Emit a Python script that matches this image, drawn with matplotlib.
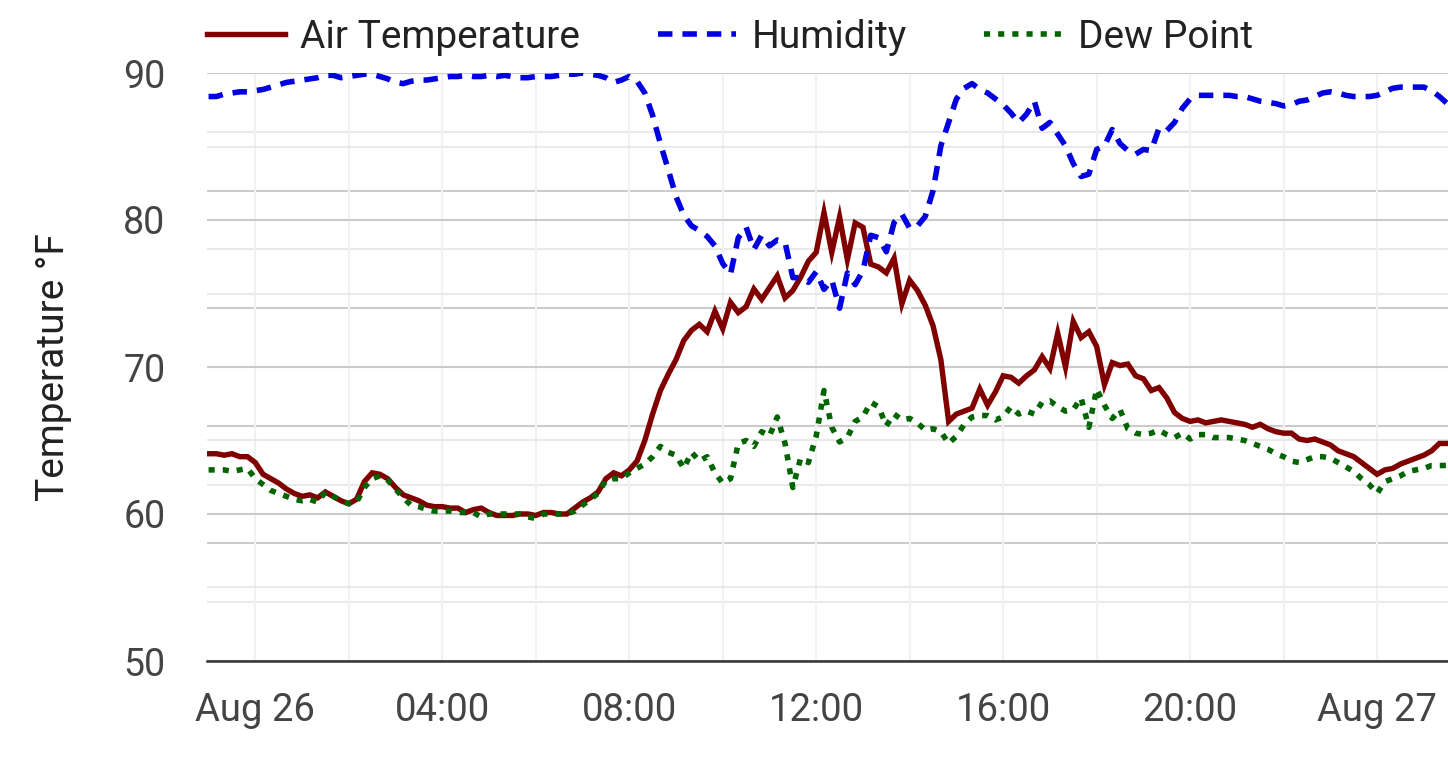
import matplotlib
matplotlib.use("Agg")
import matplotlib.pyplot as plt
import matplotlib.dates as mdates
from matplotlib.ticker import MultipleLocator, FuncFormatter
import pandas as pd

plt.rcParams['font.family'] = ['Roboto', 'DejaVu Sans']

# readings every 10 minutes, Aug 25 23:00 -> Aug 27 01:30
times = pd.date_range('2024-08-25 23:00', periods=160, freq='10min')

air_temp = [
    64.1, 64.1, 64.0, 64.1, 63.9, 63.9, 63.5, 62.7, 62.4, 62.1,
    61.7, 61.4, 61.2, 61.3, 61.1, 61.5, 61.2, 60.9, 60.7, 61.0,
    62.2, 62.8, 62.7, 62.4, 61.8, 61.3, 61.1, 60.9, 60.6, 60.5,
    60.5, 60.4, 60.4, 60.1, 60.3, 60.4, 60.1, 59.9, 59.9, 59.9,
    60.0, 60.0, 59.9, 60.1, 60.1, 60.0, 60.0, 60.4, 60.8, 61.1,
    61.5, 62.4, 62.8, 62.6, 63.0, 63.6, 65.0, 66.8, 68.4, 69.5,
    70.5, 71.8, 72.5, 72.9, 72.4, 73.8, 72.6, 74.4, 73.7, 74.1,
    75.3, 74.6, 75.4, 76.2, 74.7, 75.2, 76.1, 77.2, 77.8, 80.5,
    77.8, 80.2, 77.3, 79.8, 79.5, 77.0, 76.8, 76.4, 77.4, 74.3,
    75.9, 75.2, 74.2, 72.8, 70.5, 66.3, 66.8, 67.0, 67.2, 68.5,
    67.4, 68.3, 69.4, 69.3, 68.9, 69.4, 69.8, 70.7, 69.9, 72.3,
    70.0, 73.1, 72.0, 72.4, 71.4, 68.8, 70.3, 70.1, 70.2, 69.4,
    69.2, 68.4, 68.6, 67.9, 66.9, 66.5, 66.3, 66.4, 66.2, 66.3,
    66.4, 66.3, 66.2, 66.1, 65.9, 66.1, 65.8, 65.6, 65.5, 65.5,
    65.1, 65.0, 65.1, 64.9, 64.7, 64.3, 64.1, 63.9, 63.5, 63.1,
    62.7, 63.0, 63.1, 63.4, 63.6, 63.8, 64.0, 64.3, 64.8, 64.8,
]

dew_point = [
    63.0, 63.0, 63.0, 62.9, 63.0, 63.1, 62.4, 62.0, 61.6, 61.4,
    61.2, 61.0, 60.9, 61.0, 60.8, 61.5, 61.2, 60.9, 60.7, 60.8,
    61.8, 62.4, 62.6, 62.3, 61.7, 61.1, 60.6, 60.5, 60.3, 60.2,
    60.2, 60.2, 60.1, 60.1, 60.1, 59.8, 60.0, 60.0, 60.0, 60.0,
    60.0, 59.8, 59.7, 60.0, 60.0, 60.0, 60.0, 60.2, 60.6, 61.0,
    61.4, 62.3, 62.4, 62.4, 62.8, 63.1, 63.4, 63.9, 64.6, 64.2,
    64.0, 63.1, 64.2, 63.6, 63.9, 62.8, 62.1, 62.4, 64.8, 65.0,
    64.6, 65.6, 65.3, 66.6, 64.8, 61.8, 63.8, 63.5, 65.3, 68.4,
    65.9, 64.9, 65.2, 66.3, 66.6, 67.6, 67.3, 66.0, 66.8, 66.4,
    66.5, 66.2, 65.7, 65.8, 65.6, 64.8, 65.3, 66.1, 66.6, 66.7,
    66.7, 66.4, 66.6, 67.3, 66.8, 67.0, 66.8, 67.6, 67.7, 67.3,
    67.0, 67.1, 67.9, 65.9, 68.5, 67.4, 66.5, 67.1, 65.8, 65.5,
    65.4, 65.5, 65.7, 65.4, 65.2, 65.5, 65.1, 65.4, 65.4, 65.2,
    65.2, 65.2, 65.1, 65.0, 64.8, 64.6, 64.4, 64.1, 63.9, 63.6,
    63.5, 63.7, 63.9, 63.9, 63.8, 63.5, 63.2, 62.9, 62.4, 62.0,
    61.4, 62.2, 62.4, 62.6, 62.9, 63.0, 63.1, 63.3, 63.3, 63.3,
]

humidity = [
    98.0, 98.0, 98.2, 98.3, 98.4, 98.4, 98.5, 98.6, 98.8, 99.0,
    99.2, 99.3, 99.4, 99.5, 99.6, 99.8, 99.8, 99.6, 99.7, 99.8,
    99.9, 99.9, 99.7, 99.5, 99.2, 99.1, 99.3, 99.4, 99.4, 99.5,
    99.6, 99.7, 99.7, 99.8, 99.7, 99.7, 99.8, 99.7, 99.8, 99.7,
    99.6, 99.6, 99.7, 99.7, 99.7, 99.8, 99.9, 99.9, 100.0, 99.9,
    99.8, 99.6, 99.2, 99.4, 99.7, 99.3, 98.3, 96.4, 94.0, 91.8,
    89.5, 87.9, 87.0, 86.6, 86.1, 85.3, 83.8, 82.9, 86.0, 86.9,
    85.0, 86.2, 85.3, 85.8, 85.6, 82.6, 82.6, 82.2, 83.1, 81.6,
    82.4, 80.0, 83.0, 82.0, 83.2, 86.2, 86.0, 84.8, 87.3, 88.0,
    86.8, 87.0, 87.8, 90.0, 93.8, 95.8, 97.8, 98.7, 99.1, 98.6,
    98.3, 97.8, 97.3, 96.6, 95.8, 96.5, 97.6, 95.3, 95.8, 94.8,
    93.8, 92.3, 91.2, 91.4, 93.5, 93.8, 95.2, 94.0, 93.4, 93.1,
    93.5, 93.4, 95.3, 95.1, 95.8, 97.0, 97.8, 98.1, 98.1, 98.1,
    98.1, 98.1, 98.0, 98.0, 97.8, 97.6, 97.5, 97.4, 97.2, 97.3,
    97.6, 97.7, 98.0, 98.3, 98.4, 98.3, 98.1, 98.0, 98.0, 98.0,
    98.1, 98.4, 98.7, 98.8, 98.8, 98.8, 98.8, 98.5, 98.0, 97.4,
]

W, H = 1448, 759
fig = plt.figure(figsize=(W / 100, H / 100), dpi=100)
rect = [207 / W, 98 / H, 1241 / W, 588 / H]
ax = fig.add_axes(rect)
ax2 = ax.twinx()
ax.set_zorder(2)
ax2.set_zorder(1)
ax.patch.set_visible(False)

ax.set_xlim(pd.Timestamp('2024-08-25 22:58'), pd.Timestamp('2024-08-27 01:31'))
ax.set_ylim(50, 90)
ax2.set_ylim(50, 100)

major_c, minor_c, vert_c = '#cbcbcb', '#e9e9e9', '#f1f1f1'

ax.yaxis.set_major_locator(MultipleLocator(10))
ax.yaxis.set_minor_locator(MultipleLocator(5))
ax2.yaxis.set_major_locator(MultipleLocator(10))
ax2.yaxis.set_minor_locator(MultipleLocator(5))
ax.xaxis.set_major_locator(mdates.HourLocator(byhour=[0, 4, 8, 12, 16, 20]))
ax.xaxis.set_minor_locator(mdates.HourLocator(byhour=range(0, 24, 2)))


def fmt_time(x, pos):
    d = mdates.num2date(x)
    return d.strftime('%b %d') if d.hour == 0 else d.strftime('%H:%M')


ax.xaxis.set_major_formatter(FuncFormatter(fmt_time))

ax.grid(axis='y', which='major', color=major_c, lw=1.5)
ax.grid(axis='y', which='minor', color=minor_c, lw=1.5)
ax.grid(axis='x', which='both', color=vert_c, lw=1.5)
ax2.grid(axis='y', which='major', color=major_c, lw=1.5)
ax2.grid(axis='y', which='minor', color=minor_c, lw=1.5)

ax.tick_params(which='both', length=0)
ax.tick_params(axis='y', labelsize=27, labelcolor='#444444', pad=30)
ax.tick_params(axis='x', labelsize=27.5, labelcolor='#444444', pad=22)
ax2.tick_params(which='both', length=0, labelright=False)

for s in ['top', 'left', 'right']:
    ax.spines[s].set_visible(False)
for s in ax2.spines.values():
    s.set_visible(False)
ax.spines['bottom'].set_color('#333333')
ax.spines['bottom'].set_linewidth(1.8)

ax.plot(times, air_temp, color='#800000', lw=3.9, label='Air Temperature',
        solid_joinstyle='miter')
ax.plot(times, humidity, color='#0000e0', lw=4.0, dashes=(2.6, 1.8),
        dash_capstyle='butt', label='Humidity', transform=ax2.transData)
ax.plot(times, dew_point, color='#006400', lw=4.0, dashes=(1.1, 1.45),
        dash_capstyle='butt', label='Dew Point')

ax.set_ylabel('Temperature °F', fontsize=28, color='#222222')
ax.yaxis.set_label_coords(-0.109, 0.5)

ax.legend(loc='center left', bbox_to_anchor=(207 / W, 1 - 37 / H),
          bbox_transform=fig.transFigure, ncol=3, frameon=False,
          borderpad=0, borderaxespad=0, handlelength=2.0,
          handletextpad=0.4, columnspacing=2.0, fontsize=28,
          labelcolor='#222222')

fig.savefig('out.png', dpi=100)
